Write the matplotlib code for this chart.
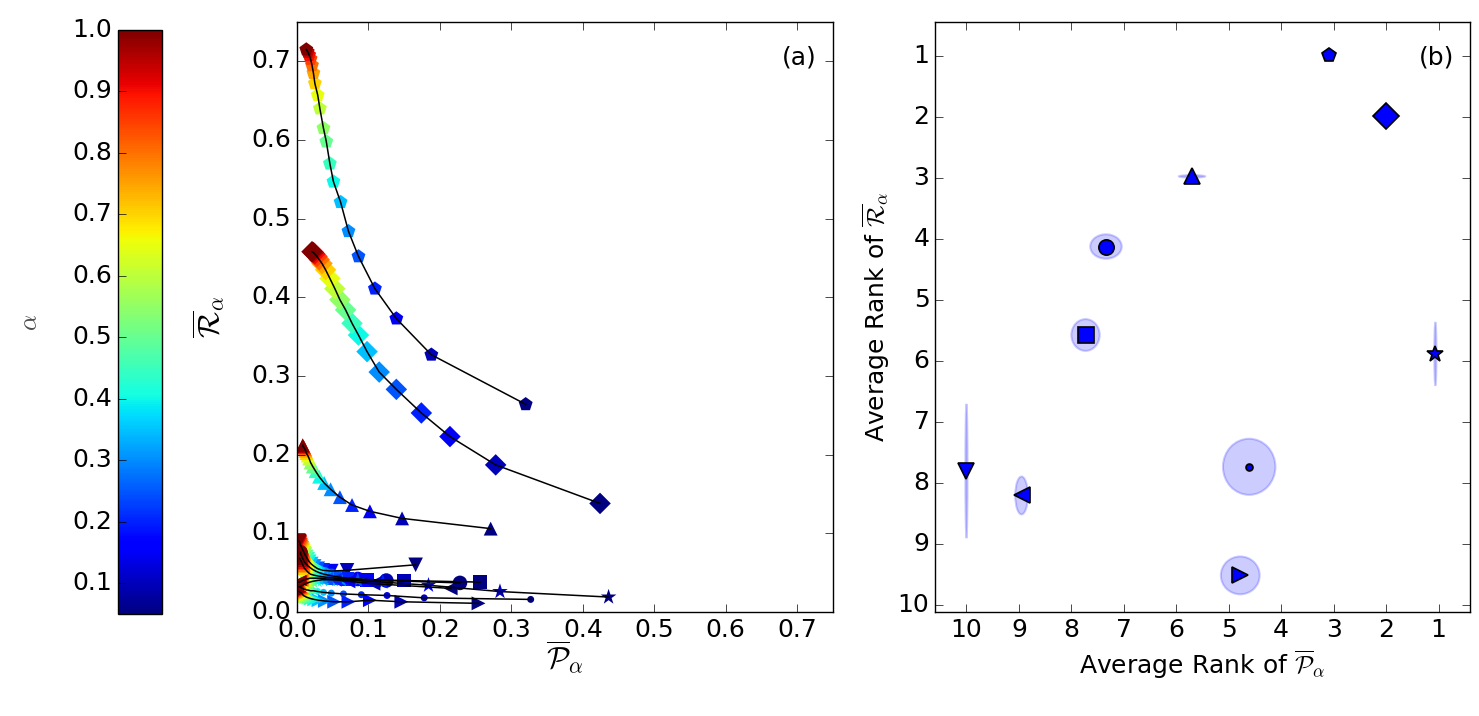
import numpy as np
import matplotlib
matplotlib.use('Agg')
import matplotlib.pyplot as plt
from matplotlib.patches import Ellipse
from matplotlib.cm import ScalarMappable
from matplotlib.colors import Normalize

plt.style.use('classic')
plt.rcParams['figure.facecolor'] = 'white'
plt.rcParams['savefig.facecolor'] = 'white'
plt.rcParams['font.size'] = 18
plt.rcParams['xtick.major.size'] = 6
plt.rcParams['ytick.major.size'] = 6

alpha_vals = np.round(np.arange(0.05, 1.001, 0.05), 2)

markers = ['p', 'D', '^', 'v', 'o', 's', '*', '<', '.', '>']
sizes = [110, 120, 100, 110, 110, 100, 140, 100, 100, 100]

# panel (a): mean precision / recall for each alpha
P_pent = [0.320, 0.188, 0.139, 0.109, 0.086, 0.072, 0.061, 0.051, 0.046, 0.041,
          0.037, 0.032, 0.029, 0.025, 0.023, 0.021, 0.019, 0.017, 0.015, 0.013]
R_pent = [0.264, 0.327, 0.373, 0.411, 0.452, 0.484, 0.521, 0.547, 0.570, 0.598,
          0.615, 0.640, 0.657, 0.672, 0.685, 0.695, 0.703, 0.708, 0.712, 0.715]
P_diam = [0.424, 0.278, 0.214, 0.174, 0.139, 0.115, 0.098, 0.086, 0.077, 0.068,
          0.060, 0.053, 0.046, 0.040, 0.035, 0.031, 0.028, 0.025, 0.023, 0.021]
R_diam = [0.138, 0.187, 0.223, 0.253, 0.283, 0.305, 0.331, 0.352, 0.367, 0.384,
          0.397, 0.411, 0.424, 0.435, 0.443, 0.448, 0.452, 0.455, 0.457, 0.458]
P_tri = [0.271, 0.147, 0.102, 0.077, 0.060, 0.047, 0.038, 0.031, 0.026, 0.022,
         0.019, 0.017, 0.015, 0.013, 0.012, 0.011, 0.010, 0.009, 0.008, 0.008]
R_tri = [0.106, 0.119, 0.128, 0.136, 0.146, 0.156, 0.164, 0.172, 0.179, 0.185,
         0.190, 0.195, 0.199, 0.202, 0.205, 0.207, 0.209, 0.210, 0.211, 0.212]
P_down = [0.166, 0.070, 0.048, 0.036, 0.029, 0.024, 0.020, 0.017, 0.015, 0.013,
          0.011, 0.010, 0.009, 0.008, 0.007, 0.006, 0.005, 0.004, 0.004, 0.003]
R_down = [0.060, 0.053, 0.052, 0.053, 0.055, 0.058, 0.061, 0.064, 0.067, 0.070,
          0.073, 0.075, 0.077, 0.079, 0.081, 0.083, 0.085, 0.087, 0.089, 0.090]
P_circ = [0.228, 0.125, 0.085, 0.062, 0.048, 0.038, 0.031, 0.026, 0.022, 0.019,
          0.016, 0.014, 0.012, 0.010, 0.009, 0.008, 0.007, 0.006, 0.005, 0.005]
R_circ = [0.037, 0.040, 0.042, 0.044, 0.046, 0.048, 0.050, 0.052, 0.054, 0.056,
          0.058, 0.060, 0.062, 0.064, 0.066, 0.068, 0.070, 0.072, 0.074, 0.076]
P_sq = [0.256, 0.150, 0.098, 0.070, 0.053, 0.042, 0.034, 0.028, 0.023, 0.019,
        0.016, 0.014, 0.012, 0.010, 0.009, 0.008, 0.007, 0.006, 0.005, 0.004]
R_sq = [0.038, 0.040, 0.041, 0.042, 0.043, 0.044, 0.045, 0.046, 0.047, 0.048,
        0.050, 0.052, 0.054, 0.056, 0.058, 0.060, 0.062, 0.064, 0.066, 0.068]
P_star = [0.436, 0.284, 0.184, 0.120, 0.085, 0.062, 0.047, 0.036, 0.028, 0.022,
          0.018, 0.015, 0.012, 0.010, 0.008, 0.007, 0.006, 0.005, 0.004, 0.004]
R_star = [0.019, 0.026, 0.034, 0.038, 0.040, 0.041, 0.041, 0.041, 0.040, 0.039,
          0.038, 0.037, 0.036, 0.035, 0.034, 0.034, 0.033, 0.033, 0.032, 0.032]
P_left = [0.215, 0.107, 0.072, 0.053, 0.041, 0.033, 0.027, 0.022, 0.018, 0.015,
          0.013, 0.011, 0.009, 0.008, 0.007, 0.006, 0.005, 0.004, 0.004, 0.003]
R_left = [0.030, 0.036, 0.039, 0.041, 0.042, 0.043, 0.043, 0.043, 0.043, 0.042,
          0.042, 0.041, 0.041, 0.040, 0.040, 0.039, 0.039, 0.038, 0.038, 0.038]
P_dot = [0.327, 0.178, 0.126, 0.090, 0.065, 0.048, 0.037, 0.029, 0.023, 0.019,
         0.015, 0.013, 0.011, 0.009, 0.008, 0.007, 0.006, 0.005, 0.004, 0.003]
R_dot = [0.016, 0.018, 0.021, 0.022, 0.023, 0.024, 0.025, 0.026, 0.027, 0.027,
         0.028, 0.028, 0.029, 0.029, 0.030, 0.030, 0.031, 0.031, 0.032, 0.032]
P_right = [0.254, 0.146, 0.102, 0.072, 0.052, 0.039, 0.030, 0.024, 0.019, 0.016,
           0.013, 0.011, 0.009, 0.008, 0.007, 0.006, 0.005, 0.004, 0.003, 0.003]
R_right = [0.011, 0.013, 0.015, 0.013, 0.013, 0.014, 0.015, 0.016, 0.017, 0.018,
           0.019, 0.020, 0.021, 0.022, 0.023, 0.024, 0.025, 0.025, 0.026, 0.026]

P_all = [P_pent, P_diam, P_tri, P_down, P_circ, P_sq, P_star, P_left, P_dot, P_right]
R_all = [R_pent, R_diam, R_tri, R_down, R_circ, R_sq, R_star, R_left, R_dot, R_right]

# panel (b): average ranks and spread
rankP = [3.08, 2.00, 5.70, 10.0, 7.34, 7.73, 1.06, 8.95, 4.61, 4.78]
rankR = [0.99, 1.99, 2.98, 7.81, 4.13, 5.58, 5.89, 8.21, 7.74, 9.52]
sdP = [0.05, 0.05, 0.25, 0.02, 0.30, 0.27, 0.02, 0.12, 0.50, 0.37]
sdR = [0.05, 0.05, 0.02, 1.10, 0.20, 0.26, 0.52, 0.31, 0.46, 0.31]
bsizes = [10, 13, 11, 11, 11, 11, 12, 11, 10, 11]

fig = plt.figure(figsize=(14.79, 7.16), dpi=100)
W, H = 1479., 716.
cax = fig.add_axes([118/W, 102/H, 44/W, 584/H])
ax1 = fig.add_axes([297/W, 104/H, 536/W, 590/H])
ax2 = fig.add_axes([935/W, 104/H, 535/W, 590/H])

norm = Normalize(vmin=0.05, vmax=1.0)
for P, R, m, s in zip(P_all, R_all, markers, sizes):
    ax1.scatter(P, R, c=alpha_vals, cmap='jet', norm=norm, marker=m, s=s,
                edgecolors='none', zorder=2)
    ax1.plot(P, R, '-', color='k', lw=1.1, zorder=3)
ax1.set_xlim(0, 0.75)
ax1.set_ylim(0, 0.75)
ax1.set_xticks(np.arange(0, 0.71, 0.1))
ax1.set_yticks(np.arange(0, 0.71, 0.1))
ax1.set_xlabel(r'$\overline{\mathcal{P}}_\alpha$', fontsize=22, labelpad=-2)
ax1.set_ylabel(r'$\overline{\mathcal{R}}_\alpha$', fontsize=22, labelpad=18)
ax1.text(0.97, 0.96, '(a)', transform=ax1.transAxes, ha='right', va='top', fontsize=18)

sm = ScalarMappable(norm=norm, cmap='jet')
cb = fig.colorbar(sm, cax=cax)
cb.set_ticks(np.arange(0.1, 1.01, 0.1))
cax.yaxis.set_ticks_position('left')
cax.yaxis.set_label_position('left')
cax.set_ylabel(r'$\alpha$', fontsize=18, labelpad=22, color='0.3')
cax.tick_params(direction='in', length=6, labelsize=18)

for x, y, sx, sy, m, ms in zip(rankP, rankR, sdP, sdR, markers, bsizes):
    ax2.add_patch(Ellipse((x, y), 2*sx, 2*sy, facecolor=(0, 0, 1, 0.2),
                          edgecolor=(0, 0, 1, 0.2), lw=1.5, zorder=1))
    ax2.plot([x], [y], marker=m, ms=ms, color='b', mec='k', mew=1.2,
             ls='none', zorder=3)
ax2.set_xlim(10.6, 0.4)
ax2.set_ylim(10.12, 0.45)
ax2.set_xticks(range(1, 11))
ax2.set_yticks(range(1, 11))
ax2.set_xlabel(r'Average Rank of $\overline{\mathcal{P}}_\alpha$', fontsize=18)
ax2.set_ylabel(r'Average Rank of $\overline{\mathcal{R}}_\alpha$', fontsize=18, labelpad=4)
ax2.text(0.97, 0.96, '(b)', transform=ax2.transAxes, ha='right', va='top', fontsize=18)

fig.savefig('out.png', dpi=100)
